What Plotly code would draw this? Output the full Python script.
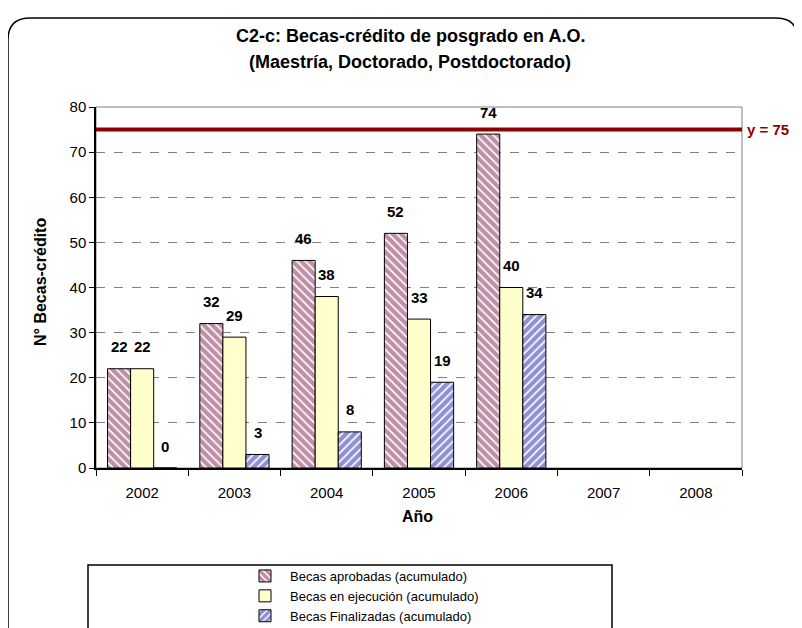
import plotly.graph_objects as go

# data
years = ["2002", "2003", "2004", "2005", "2006", "2007", "2008"]
aprobadas = [22, 32, 46, 52, 74, None, None]
ejecucion = [22, 29, 38, 33, 40, None, None]
finalizadas = [0, 3, 8, 19, 34, None, None]
meta = 75

series_names = [
    "Becas aprobadas (acumulado)",
    "Becas en ejecución (acumulado)",
    "Becas Finalizadas (acumulado)",
]
series_values = [aprobadas, ejecucion, finalizadas]

FONT = "Liberation Sans, Arial, sans-serif"
BARGAP = 0.25
# the page body has an 8px margin, so the figure is 8px smaller than the window
W, H, OFF = 794, 620, 8

fig = go.Figure()

# aprobadas: magenta diagonal hatch
fig.add_trace(go.Bar(
    x=years, y=aprobadas, name=series_names[0],
    marker=dict(color="white", line=dict(color="black", width=1),
                pattern=dict(shape="\\", fgcolor="#80204F", bgcolor="white",
                             size=6, solidity=0.72)),
))
# ejecucion: pale yellow solid
fig.add_trace(go.Bar(
    x=years, y=ejecucion, name=series_names[1],
    marker=dict(color="#FFFFCC", line=dict(color="black", width=1)),
))
# finalizadas: blue diagonal hatch
fig.add_trace(go.Bar(
    x=years, y=finalizadas, name=series_names[2],
    marker=dict(color="white", line=dict(color="black", width=1),
                pattern=dict(shape="/", fgcolor="#2020A8", bgcolor="white",
                             size=6, solidity=0.72)),
))

# pixel (reference screenshot) -> paper helpers, plot area 96..742 x 107..468
def px(p):
    return (p - 96) / 646

def py(p):
    return (468 - p) / 361

# value labels above each bar
annotations = []
slot = (1 - BARGAP) / 3
for k, vals in enumerate(series_values):
    for i, v in enumerate(vals):
        if v is None:
            continue
        annotations.append(dict(
            x=i + (k - 1) * slot, y=v, xref="x", yref="y",
            text=f"<b>{v}</b>", showarrow=False, yshift=22,
            font=dict(family=FONT, size=15, color="black"),
        ))

# target line label
annotations.append(dict(
    x=1, y=meta, xref="paper", yref="y", xanchor="left", yanchor="middle",
    xshift=3, text="<b>y = 75</b>", showarrow=False,
    font=dict(family=FONT, size=15, color="#8B0000"),
))

# titles
def label(x, y, text, size, angle=0):
    return dict(x=px(x), y=py(y), xref="paper", yref="paper", showarrow=False,
                xanchor="center", yanchor="middle", text=text, textangle=angle,
                font=dict(family=FONT, size=size, color="black"))

annotations += [
    label(410, 36, "<b>C2-c: Becas-crédito de posgrado en A.O.</b>", 18),
    label(410, 62, "<b>(Maestría, Doctorado, Postdoctorado)</b>", 18),
    label(40, 282, "<b>N° Becas-crédito</b>", 16, -90),
    label(417, 516, "<b>Año</b>", 16),
]

L, R, T, B = px(8), px(798), py(18), py(700)
rx, ry = 22 / 646, 22 / 361
frame = (f"M {L},{B} L {L},{T - ry} Q {L},{T} {L + rx},{T} "
         f"L {R - rx},{T} Q {R},{T} {R},{T - ry} L {R},{B}")

shapes = [
    # outer chart frame
    dict(type="path", path=frame, xref="paper", yref="paper",
         line=dict(color="black", width=1.5), layer="below"),
    # plot area border (gray)
    dict(type="rect", xref="paper", yref="paper", x0=0, x1=1, y0=0, y1=1,
         line=dict(color="#808080", width=1), layer="below"),
    # target line
    dict(type="line", xref="paper", yref="y", x0=0, x1=1, y0=meta, y1=meta,
         line=dict(color="#8B0000", width=4)),
    # legend box
    dict(type="rect", xref="paper", yref="paper",
         x0=px(88), x1=px(612), y0=py(700), y1=py(565),
         line=dict(color="black", width=1.5)),
]

fig.update_layout(
    width=W, height=H,
    margin=dict(l=96 - OFF, r=W - (742 - OFF), t=107 - OFF,
                b=H - (468 - OFF), autoexpand=False),
    paper_bgcolor="white", plot_bgcolor="white",
    barmode="group", bargap=BARGAP, bargroupgap=0,
    xaxis=dict(
        type="category", categoryorder="array", categoryarray=years,
        showline=True, linecolor="black", linewidth=1.5,
        ticks="outside", tickson="boundaries", ticklen=6, tickcolor="black",
        ticklabelstandoff=10,
        tickfont=dict(family=FONT, size=15, color="black"),
        showgrid=False, zeroline=False, fixedrange=True,
    ),
    yaxis=dict(
        range=[0, 80], dtick=10,
        showline=True, linecolor="black", linewidth=1.5,
        ticks="outside", ticklen=5, tickcolor="black",
        tickfont=dict(family=FONT, size=15, color="black"),
        showgrid=True, gridcolor="#808080", griddash="dash", gridwidth=1,
        zeroline=False,
    ),
    legend=dict(
        xref="container", yref="container",
        x=(240 - OFF) / W, xanchor="left", y=1 - (561 - OFF) / H, yanchor="top",
        bgcolor="rgba(0,0,0,0)", borderwidth=0,
        font=dict(family=FONT, size=13, color="black"),
        itemwidth=40, tracegroupgap=0, traceorder="normal",
    ),
    annotations=annotations,
    shapes=shapes,
    showlegend=True,
)

fig.write_html("out.html")
